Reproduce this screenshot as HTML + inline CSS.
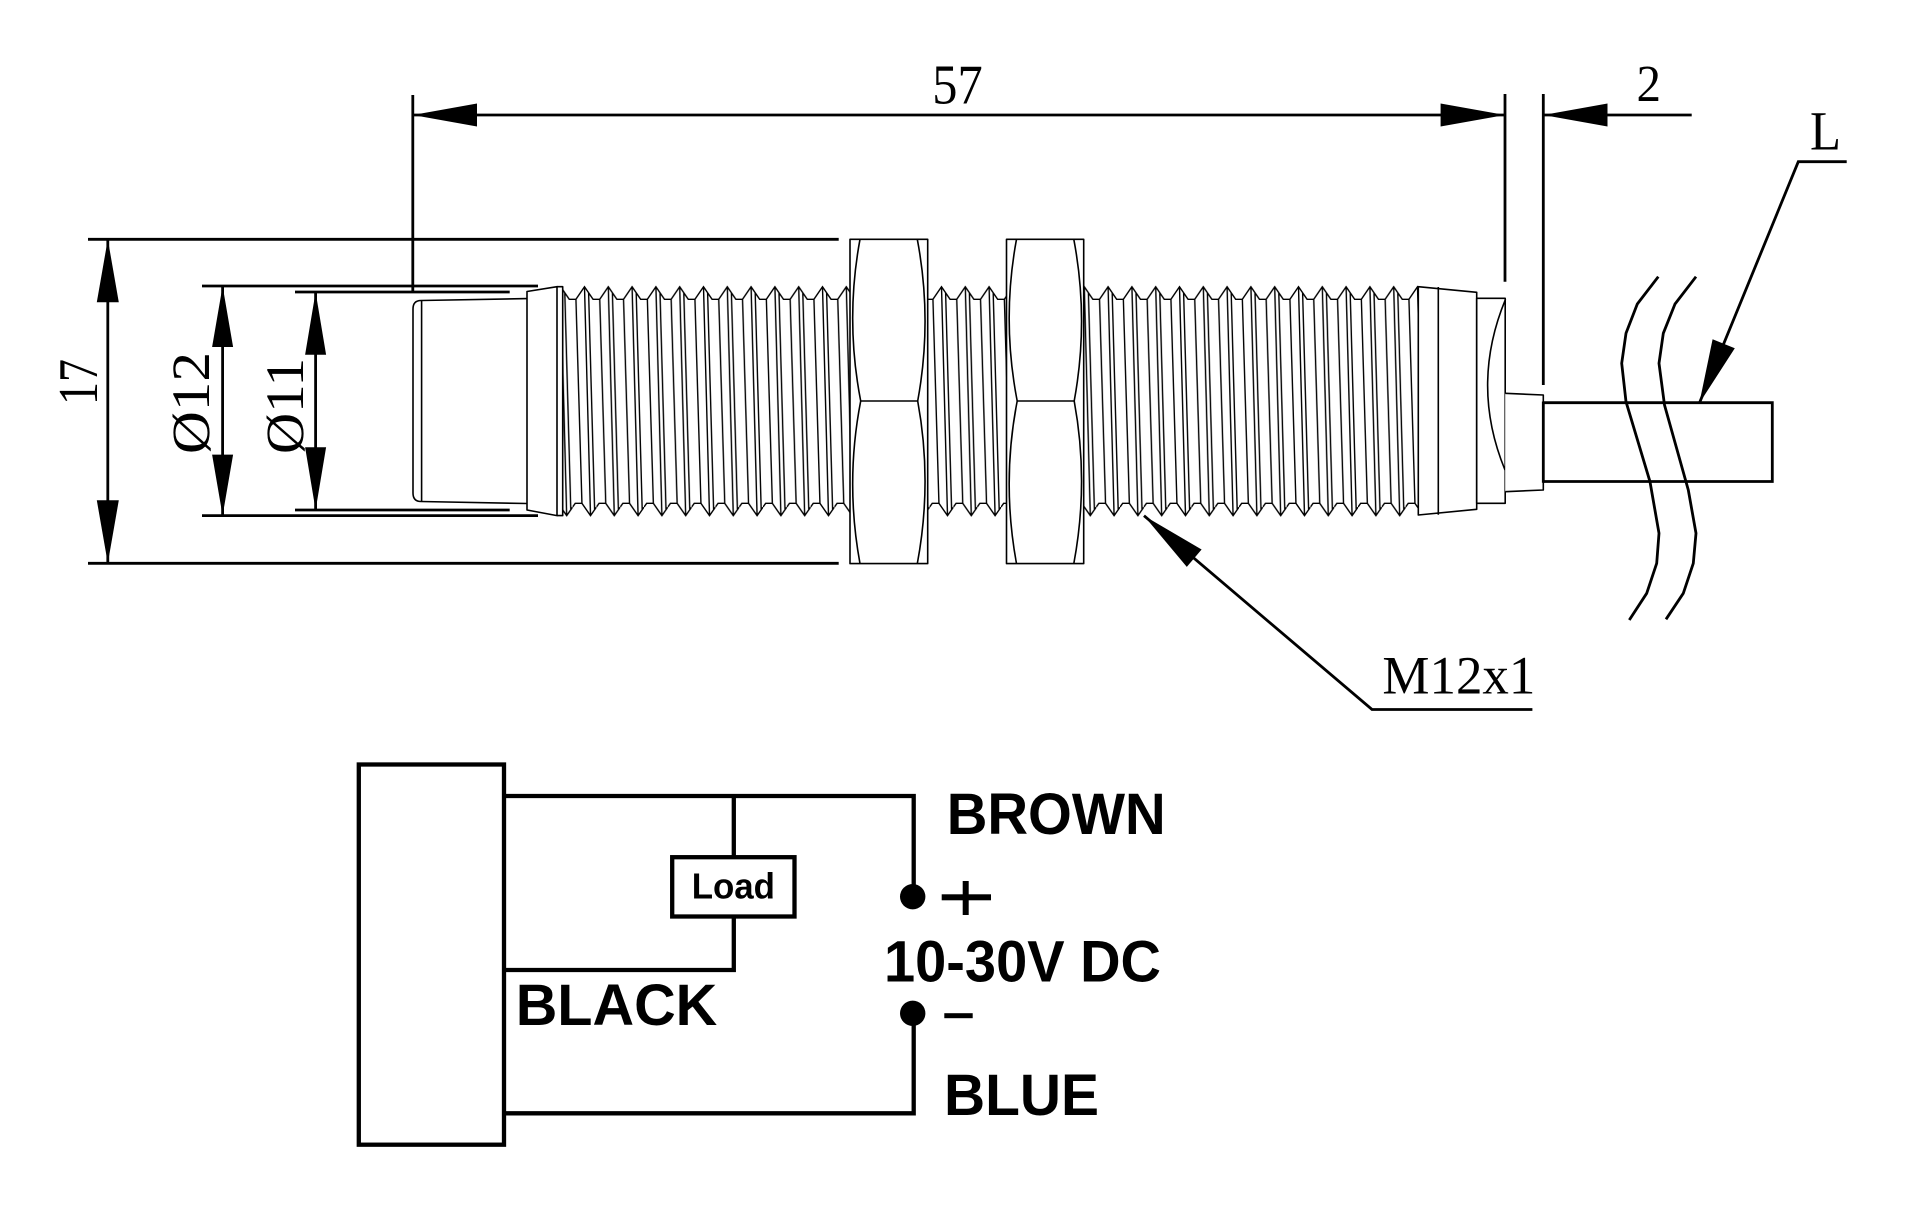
<!DOCTYPE html>
<html>
<head>
<meta charset="utf-8">
<style>
  html,body{margin:0;padding:0;background:#fff;}
  svg{display:block;}
  .serif{font-family:"Liberation Serif","Times New Roman",serif;fill:#000;}
  .sans{font-family:"Liberation Sans",Arial,sans-serif;font-weight:bold;fill:#000;}
</style>
</head>
<body>
<svg width="1920" height="1221" viewBox="0 0 1920 1221" xmlns="http://www.w3.org/2000/svg">
  <defs>
    <pattern id="thr" patternUnits="userSpaceOnUse" x="572.6" y="285" width="23.8" height="232">
      <path d="M0 14.3 L3.35 14.3 L11.9 1.7 L20.45 14.3 L23.8 14.3 M0 222.14 L2.65 218.3 L9.35 218.3 L17.9 230.7 L23.8 222.14 M3.35 14.3 L9.35 218.3 M11.9 1.7 L17.9 230.7 M16 7.74 L22 224.75" fill="none" stroke="#000" stroke-width="1.4"/>
    </pattern>
  </defs>
  <rect x="0" y="0" width="1920" height="1221" fill="#fff"/>

  <!-- ===== Sensor body ===== -->
  <g fill="none" stroke="#000" stroke-width="1.6" stroke-linejoin="round">
    <path d="M527 298.6 L421 300.5 Q413 300.5 413 309 L413 493 Q413 501.5 421 501.5 L527 503.5"/>
    <line x1="421.6" y1="300.5" x2="421.6" y2="501.5"/>
    <path d="M527 291.5 L557 286.7 L557 515.6 L527 510 Z"/>
    <path d="M557 286.7 L562.7 286.7 L562.7 515.6 L557 515.6"/>
  </g>
  <rect x="562.7" y="285" width="855.6" height="232" fill="url(#thr)"/>
  <g fill="none" stroke="#000" stroke-width="1.6" stroke-linejoin="round">
    <path d="M1418.3 286.7 L1476.7 292.3 L1476.7 509.3 L1418.3 515 Z" fill="#fff"/>
    <line x1="1438.3" y1="287" x2="1438.3" y2="514.8"/>
    <rect x="1476.7" y="298.3" width="28.5" height="205" fill="#fff"/>
    <path d="M1505.5 299.3 Q1470 385 1505 470"/>
    <path d="M1505.2 393.3 L1543.3 395 L1543.3 490 L1505.2 491.7" fill="#fff"/>
  </g>
  <g fill="#fff" stroke="#000" stroke-width="1.6" stroke-linejoin="round">
    <rect x="850" y="239.3" width="77.7" height="324.3"/>
    <path d="M860 239.3 Q845 320 860.7 401 Q845 482 860 563.6" fill="none"/>
    <path d="M917.3 239.3 Q932.6 320 917.7 401 Q932.6 482 917.3 563.6" fill="none"/>
    <line x1="860.7" y1="401" x2="917.7" y2="401"/>
    <rect x="1006.5" y="239.3" width="77.2" height="324.3"/>
    <path d="M1016.5 239.3 Q1001.5 320 1017.2 401 Q1001.5 482 1016.5 563.6" fill="none"/>
    <path d="M1073.8 239.3 Q1089.1 320 1074.2 401 Q1089.1 482 1073.8 563.6" fill="none"/>
    <line x1="1017.2" y1="401" x2="1074.2" y2="401"/>
  </g>

  <g fill="none" stroke="#000" stroke-width="2.8" stroke-linejoin="miter">
    <path d="M1543.3 402.7 L1772.3 402.7 L1772.3 481.5 L1543.3 481.5"/>
    <line x1="1543.3" y1="401.5" x2="1543.3" y2="482.8"/>
  </g>
  <g fill="none" stroke="#000" stroke-width="2.8" stroke-linejoin="round" stroke-linecap="butt">
    <polyline points="1658.3,276.7 1637.3,304 1626,333.3 1621.7,363.3 1626,401.7 1650,481.7 1659,533.3 1656.7,563.3 1646.7,593.3 1629.3,620"/>
    <polyline points="1696,276.7 1675,304 1663.3,333.3 1659,363.3 1664.5,405 1688.3,490 1696,533.3 1693.3,563.3 1683.3,593.3 1666,619.3"/>
  </g>

  <!-- ===== Dimensions ===== -->
  <g fill="none" stroke="#000" stroke-width="2.8">
    <line x1="88" y1="239.3" x2="838.7" y2="239.3"/>
    <line x1="88" y1="563.3" x2="838.7" y2="563.3"/>
    <line x1="107.8" y1="239.3" x2="107.8" y2="563.3"/>
    <line x1="202" y1="286" x2="538" y2="286"/>
    <line x1="202" y1="515.6" x2="538" y2="515.6"/>
    <line x1="222.6" y1="286" x2="222.6" y2="515.6"/>
    <line x1="295" y1="292" x2="509.7" y2="292"/>
    <line x1="295" y1="510" x2="509.7" y2="510"/>
    <line x1="315.6" y1="292" x2="315.6" y2="510"/>
    <line x1="412.8" y1="95" x2="412.8" y2="291"/>
    <line x1="1505" y1="94" x2="1505" y2="281.7"/>
    <line x1="1543.3" y1="94" x2="1543.3" y2="385"/>
    <line x1="412.8" y1="115" x2="1505" y2="115"/>
    <line x1="1543.3" y1="115" x2="1691.7" y2="115"/>
    <polyline points="1144,515.7 1372,709.5 1532.4,709.5"/>
    <polyline points="1699.3,403.3 1798.3,161.7 1846.7,161.7"/>
  </g>
  <g fill="#000" stroke="none">
    <polygon points="107.8,239.3 96.8,302.3 118.8,302.3"/>
    <polygon points="107.8,563.3 96.8,500.3 118.8,500.3"/>
    <polygon points="222.6,286 212.1,347 233.1,347"/>
    <polygon points="222.6,515.6 212.1,454.6 233.1,454.6"/>
    <polygon points="315.6,292 305.1,354.8 326.1,354.8"/>
    <polygon points="315.6,510 305.1,447.2 326.1,447.2"/>
    <polygon points="412.8,115 477,103.5 477,126.5"/>
    <polygon points="1505,115 1440.6,103.5 1440.6,126.5"/>
    <polygon points="1543.3,115 1607.5,103.5 1607.5,126.5"/>
    <polygon points="1144,515.7 1186.8,566.9 1201.6,549.5"/>
    <polygon points="1699.3,403.3 1734.8,348.3 1712.6,339.2"/>
  </g>

  <text class="serif" x="932.3" y="103.3" font-size="56" textLength="50.4" lengthAdjust="spacingAndGlyphs">57</text>
  <text class="serif" x="1636.5" y="101" font-size="52" textLength="24.5" lengthAdjust="spacingAndGlyphs">2</text>
  <text class="serif" x="1810" y="149.3" font-size="55" textLength="31" lengthAdjust="spacingAndGlyphs">L</text>
  <text class="serif" x="1382.4" y="693.4" font-size="54" textLength="153" lengthAdjust="spacingAndGlyphs">M12x1</text>
  <text class="serif" transform="translate(97 382) rotate(-90)" text-anchor="middle" font-size="56" textLength="46" lengthAdjust="spacingAndGlyphs">17</text>
  <text class="serif" transform="translate(209 403) rotate(-90)" text-anchor="middle" font-size="54" textLength="102" lengthAdjust="spacingAndGlyphs">Ø12</text>
  <text class="serif" transform="translate(303 406) rotate(-90)" text-anchor="middle" font-size="54" textLength="96" lengthAdjust="spacingAndGlyphs">Ø11</text>

  <!-- ===== Wiring diagram ===== -->
  <g fill="none" stroke="#000" stroke-width="4.3" stroke-linejoin="miter">
    <rect x="358.8" y="764.5" width="145.2" height="380.2"/>
    <polyline points="504,796 913.7,796 913.7,896.7"/>
    <line x1="733.8" y1="796" x2="733.8" y2="857.2"/>
    <rect x="672.2" y="857.2" width="122.3" height="59.3"/>
    <polyline points="504,970 733.8,970 733.8,916.5"/>
    <polyline points="504,1113.3 913.7,1113.3 913.7,1013.3"/>
  </g>
  <g fill="#000" stroke="none">
    <circle cx="912.7" cy="896.7" r="12.7"/>
    <circle cx="912.7" cy="1013.3" r="12.7"/>
    <rect x="941.7" y="894.3" width="49.3" height="6"/>
    <rect x="962.7" y="881" width="6" height="34"/>
    <rect x="944.3" y="1013.2" width="28.4" height="5"/>
  </g>
  <text class="sans" x="691.7" y="898.3" font-size="36" textLength="83.3" lengthAdjust="spacingAndGlyphs">Load</text>
  <text class="sans" x="515.7" y="1025" font-size="58" textLength="201.6" lengthAdjust="spacingAndGlyphs">BLACK</text>
  <text class="sans" x="946.7" y="834" font-size="58" textLength="219" lengthAdjust="spacingAndGlyphs">BROWN</text>
  <text class="sans" x="884" y="981.7" font-size="58" textLength="277" lengthAdjust="spacingAndGlyphs">10-30V DC</text>
  <text class="sans" x="944" y="1115" font-size="58" textLength="155" lengthAdjust="spacingAndGlyphs">BLUE</text>
</svg>
</body>
</html>
